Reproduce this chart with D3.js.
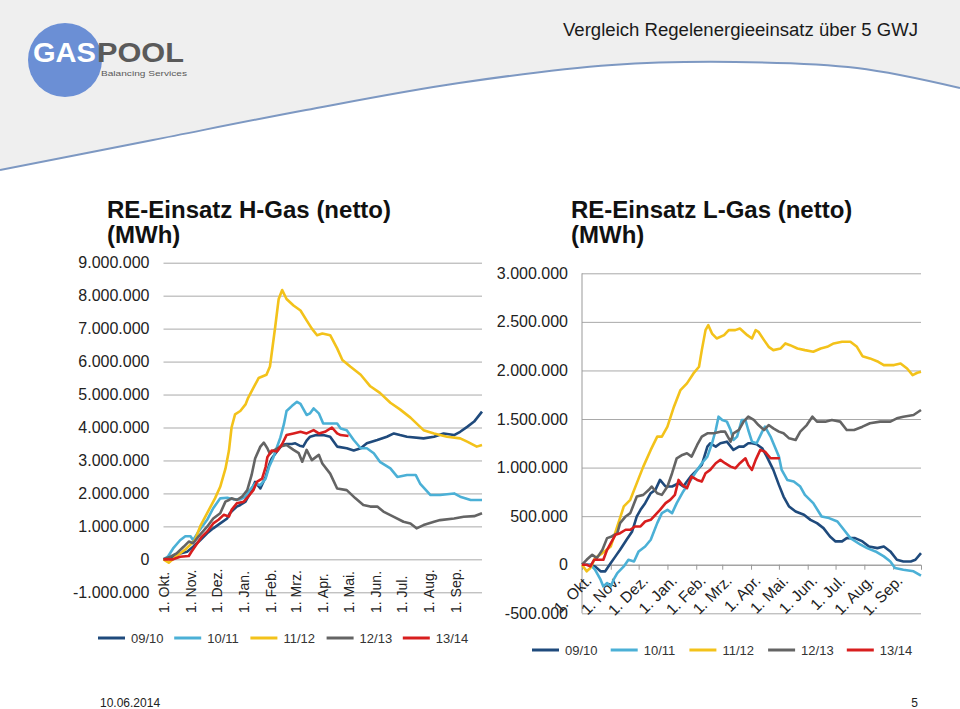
<!DOCTYPE html>
<html><head><meta charset="utf-8">
<script src="https://cdn.jsdelivr.net/npm/d3@7"></script>
<style>
body{margin:0;background:#fff;}
svg{display:block;font-family:"Liberation Sans",Arial,sans-serif;}
</style>
</head><body>
<svg id="c" width="960" height="709"></svg>
<script>
// ---------- data ----------
const months = ["1. Okt.","1. Nov.","1. Dez.","1. Jan.","1. Feb.","1. Mrz.","1. Apr.","1. Mai.","1. Jun.","1. Jul.","1. Aug.","1. Sep."];
const monthStartDays = [0,31,61,92,123,151,182,212,243,273,304,335];
const seasons = ["09/10","10/11","11/12","12/13","13/14"];
const hTicks = [-1000000,0,1000000,2000000,3000000,4000000,5000000,6000000,7000000,8000000,9000000];
const lTicks = [-500000,0,500000,1000000,1500000,2000000,2500000,3000000];

// H-Gas, [day since 1 Oct, MWh]
const h0910 = [[0,0],[11,80000],[19,180000],[27,230000],[34,380000],[42,580000],[50,790000],[57,940000],[65,1090000],[73,1240000],[76,1400000],[80,1500000],[84,1600000],[88,1650000],[94,1750000],[99,2000000],[105,2350000],[111,2150000],[117,2500000],[121,2860000],[124,3060000],[130,3270000],[136,3470000],[141,3500000],[147,3500000],[151,3520000],[156,3450000],[160,3420000],[164,3600000],[168,3720000],[175,3770000],[183,3770000],[191,3720000],[199,3420000],[210,3370000],[218,3300000],[226,3370000],[233,3520000],[245,3620000],[256,3720000],[264,3820000],[271,3770000],[279,3720000],[298,3670000],[310,3720000],[321,3820000],[333,3770000],[340,3870000],[348,4020000],[356,4180000],[365,4480000]];
const h1011 = [[0,0],[5,80000],[11,330000],[19,580000],[25,700000],[31,700000],[34,580000],[40,840000],[50,1200000],[57,1550000],[65,1850000],[73,1870000],[80,1820000],[88,1820000],[94,1900000],[99,2100000],[105,2300000],[111,2250000],[117,2450000],[121,2800000],[126,3100000],[130,3400000],[134,3700000],[138,4100000],[141,4500000],[147,4650000],[153,4780000],[157,4720000],[164,4380000],[168,4430000],[172,4580000],[178,4430000],[183,4120000],[191,4120000],[199,4120000],[203,3970000],[210,3920000],[218,3620000],[226,3370000],[233,3370000],[241,3220000],[248,2960000],[260,2760000],[268,2500000],[279,2560000],[289,2560000],[294,2300000],[306,1950000],[317,1950000],[333,2000000],[340,1900000],[352,1800000],[365,1800000]];
const h1112 = [[0,0],[6,-100000],[15,100000],[25,300000],[31,450000],[36,580000],[42,1000000],[52,1500000],[59,1850000],[65,2200000],[71,2750000],[75,3300000],[78,4000000],[82,4400000],[88,4500000],[94,4700000],[97,4900000],[103,5200000],[109,5500000],[118,5600000],[122,5850000],[128,7050000],[132,7900000],[136,8170000],[141,7900000],[149,7700000],[157,7550000],[164,7250000],[170,7000000],[176,6800000],[182,6850000],[191,6800000],[199,6400000],[205,6050000],[214,5850000],[226,5600000],[237,5250000],[248,5050000],[260,4750000],[271,4550000],[283,4300000],[298,3920000],[310,3820000],[325,3720000],[340,3670000],[348,3570000],[359,3420000],[365,3470000]];
const h1213 = [[0,0],[8,80000],[15,180000],[23,380000],[29,540000],[34,490000],[40,690000],[50,990000],[57,1240000],[65,1400000],[71,1750000],[75,1800000],[78,1850000],[84,1800000],[90,1900000],[96,2100000],[101,2560000],[105,3060000],[111,3420000],[115,3540000],[119,3370000],[122,3200000],[126,3300000],[134,3420000],[141,3470000],[149,3320000],[155,3220000],[159,2960000],[164,3320000],[170,3010000],[178,3170000],[182,2910000],[191,2600000],[199,2150000],[210,2100000],[220,1850000],[229,1650000],[237,1600000],[245,1600000],[252,1450000],[264,1290000],[275,1140000],[283,1090000],[290,940000],[298,1040000],[310,1140000],[317,1190000],[333,1240000],[344,1290000],[356,1310000],[365,1400000]];
const h1314 = [[0,0],[11,0],[19,80000],[29,100000],[32,230000],[36,380000],[44,690000],[50,840000],[57,1090000],[63,1200000],[69,1350000],[75,1300000],[78,1500000],[84,1700000],[92,1750000],[97,1900000],[103,2100000],[107,2350000],[113,2450000],[117,2800000],[119,3100000],[124,3300000],[130,3270000],[136,3500000],[141,3770000],[149,3820000],[157,3870000],[164,3820000],[172,3920000],[178,3820000],[185,3870000],[193,4000000],[199,3820000],[203,3770000],[212,3740000]];

// L-Gas, [day since 1 Oct, MWh]
const l0910 = [[0,0],[9,0],[14,-17000],[20,-68000],[25,-68000],[31,17000],[36,86000],[41,154000],[48,257000],[54,343000],[59,497000],[63,565000],[68,634000],[74,736000],[79,771000],[84,873000],[90,805000],[97,805000],[104,839000],[109,805000],[117,908000],[124,976000],[129,1027000],[135,1216000],[138,1250000],[144,1216000],[149,1250000],[156,1267000],[163,1182000],[169,1216000],[174,1216000],[179,1250000],[183,1250000],[188,1240000],[194,1199000],[199,1113000],[206,976000],[212,822000],[217,702000],[223,599000],[230,548000],[239,514000],[246,462000],[253,428000],[260,377000],[267,291000],[273,240000],[280,240000],[285,274000],[294,274000],[302,240000],[309,188000],[318,171000],[325,188000],[332,137000],[339,51000],[346,34000],[354,34000],[359,51000],[365,120000]];
const l1011 = [[0,0],[9,0],[14,-51000],[20,-154000],[23,-223000],[27,-188000],[31,-223000],[34,-154000],[38,-86000],[45,-17000],[50,51000],[56,34000],[61,137000],[68,188000],[74,257000],[81,428000],[86,531000],[92,565000],[97,531000],[102,634000],[109,754000],[117,873000],[124,976000],[129,1045000],[135,1113000],[140,1250000],[144,1387000],[147,1524000],[151,1490000],[156,1473000],[160,1387000],[163,1284000],[167,1319000],[172,1490000],[176,1490000],[179,1387000],[183,1267000],[188,1250000],[194,1370000],[197,1421000],[203,1319000],[206,1250000],[212,1113000],[215,976000],[221,873000],[228,856000],[235,805000],[240,719000],[249,634000],[258,497000],[266,480000],[275,445000],[282,360000],[289,274000],[300,206000],[307,171000],[316,137000],[325,86000],[332,34000],[337,-34000],[346,-51000],[357,-68000],[365,-113000]];
const l1112 = [[0,0],[5,-68000],[9,-34000],[14,68000],[22,120000],[31,188000],[38,394000],[45,600000],[52,668000],[59,840000],[66,1010000],[74,1182000],[81,1319000],[86,1319000],[92,1421000],[99,1627000],[106,1798000],[113,1867000],[120,1969000],[126,2038000],[129,2209000],[133,2415000],[136,2466000],[140,2380000],[145,2329000],[153,2363000],[158,2415000],[165,2415000],[170,2432000],[178,2363000],[183,2329000],[187,2415000],[190,2398000],[196,2312000],[201,2243000],[206,2209000],[214,2226000],[219,2278000],[224,2260000],[232,2226000],[240,2209000],[249,2192000],[257,2226000],[264,2243000],[271,2278000],[280,2295000],[289,2295000],[296,2243000],[302,2147000],[310,2124000],[319,2089000],[325,2055000],[336,2055000],[343,2072000],[350,2020000],[356,1952000],[361,1976000],[365,1987000]];
const l1213 = [[0,0],[5,51000],[11,103000],[16,68000],[22,154000],[27,274000],[32,291000],[38,325000],[41,428000],[47,497000],[52,531000],[59,702000],[66,719000],[72,771000],[75,805000],[81,736000],[86,719000],[92,805000],[97,942000],[102,1096000],[108,1130000],[113,1147000],[118,1113000],[124,1233000],[129,1319000],[135,1353000],[142,1353000],[149,1370000],[154,1370000],[160,1267000],[163,1353000],[169,1387000],[174,1473000],[179,1524000],[185,1490000],[190,1438000],[196,1387000],[201,1438000],[206,1404000],[212,1370000],[217,1353000],[223,1301000],[230,1284000],[235,1370000],[242,1438000],[248,1524000],[253,1473000],[262,1473000],[269,1490000],[278,1473000],[285,1387000],[293,1387000],[302,1421000],[310,1456000],[321,1473000],[332,1473000],[339,1507000],[346,1524000],[357,1541000],[365,1593000]];
const l1314 = [[0,0],[5,0],[9,-17000],[13,51000],[18,51000],[23,51000],[27,154000],[31,223000],[36,308000],[41,325000],[47,360000],[52,360000],[57,394000],[63,394000],[68,445000],[74,462000],[79,514000],[84,565000],[90,634000],[95,668000],[100,719000],[104,873000],[108,822000],[113,788000],[118,908000],[124,873000],[129,856000],[133,942000],[138,976000],[144,1045000],[149,1079000],[154,1045000],[160,1010000],[165,993000],[170,1045000],[176,1096000],[179,1027000],[183,976000],[187,1079000],[192,1182000],[197,1164000],[203,1096000],[208,1096000],[213,1096000]];

const hSeries = [h0910,h1011,h1112,h1213,h1314];
const lSeries = [l0910,l1011,l1112,l1213,l1314];

// ---------- style ----------
const colors = ["#1f4a7c","#4bb0d6","#f3c21a","#646464","#d81e1e"];
const de = d3.formatLocale({decimal:",",thousands:".",grouping:[3],currency:["","€"],minus:"-"});
const fmt = de.format(",.0f");

const svg = d3.select("#c");

// ---------- header ----------
const curvePts = [[0,170],[153,140],[306,110],[459,83],[612,65],[735,62],[857,68],[960,88]];
const curve = d3.line().curve(d3.curveCatmullRom);
svg.append("path").attr("d", curve(curvePts) + "L960,0L0,0Z").attr("fill","#efefef");
svg.append("path").attr("d", curve(curvePts)).attr("fill","none").attr("stroke","#7d98c2").attr("stroke-width",2);

svg.append("circle").attr("cx",65).attr("cy",60).attr("r",37).attr("fill","#6b8fd5");
svg.append("text").attr("x",33).attr("y",62).attr("font-size",27).attr("font-weight","bold")
  .attr("fill","#fff").attr("textLength",63).attr("lengthAdjust","spacingAndGlyphs").text("GAS");
svg.append("text").attr("x",97).attr("y",62).attr("font-size",27).attr("font-weight","900")
  .attr("fill","#5a5a5a").attr("textLength",87).attr("lengthAdjust","spacingAndGlyphs").text("POOL");
svg.append("text").attr("x",101).attr("y",76).attr("font-size",8)
  .attr("fill","#5a5a5a").attr("textLength",86).attr("lengthAdjust","spacingAndGlyphs").text("Balancing Services");

svg.append("text").attr("x",563).attr("y",36).attr("font-size",18).attr("fill","#1a1a1a")
  .attr("textLength",355).attr("lengthAdjust","spacingAndGlyphs").text("Vergleich Regelenergieeinsatz über 5 GWJ");

// ---------- titles ----------
function title(x, l1, l2){
  const t = svg.append("text").attr("font-size",24).attr("font-weight","bold").attr("fill","#111");
  t.append("tspan").attr("x",x).attr("y",218).text(l1);
  t.append("tspan").attr("x",x).attr("y",243).text(l2);
}
title(107,"RE-Einsatz H-Gas (netto)","(MWh)");
title(571,"RE-Einsatz L-Gas (netto)","(MWh)");

// ---------- left chart (H-Gas) ----------
{
  const x = d3.scaleLinear().domain([0,365]).range([163.5,482]);
  const y = d3.scaleLinear().domain([-1000000,9000000]).range([592.3,262.7]);
  const g = svg.append("g");
  const ya = g.append("g").attr("transform","translate(163.5,0)")
    .call(d3.axisLeft(y).tickValues(hTicks).tickFormat(fmt).tickSize(-(482-163.5)).tickPadding(14));
  ya.select(".domain").remove();
  ya.selectAll("line").attr("stroke","#a9a9a9");
  ya.selectAll("text").attr("font-size",16).attr("fill","#222").attr("font-family","Liberation Sans, Arial");

  const xa = g.append("g").attr("transform","translate(0,613)")
    .call(d3.axisBottom(x).tickValues(monthStartDays).tickFormat((d,i)=>months[i]).tickSize(0));
  xa.select(".domain").remove();
  xa.selectAll("text").attr("font-size",14).attr("fill","#222").attr("font-family","Liberation Sans, Arial")
    .attr("text-anchor","start").attr("y",0).attr("dy","0.35em")
    .attr("transform","rotate(-90)").attr("x",0);

  const line = d3.line().x(d=>x(d[0])).y(d=>y(d[1]));
  g.selectAll("path.s").data(hSeries).join("path").attr("class","s")
    .attr("d",line).attr("fill","none").attr("stroke",(d,i)=>colors[i])
    .attr("stroke-width",2.6).attr("stroke-linejoin","round");

  const lg = g.append("g").selectAll("g").data(seasons).join("g")
    .attr("transform",(d,i)=>`translate(${98 + i*76.2},638)`);
  lg.append("line").attr("x1",0).attr("x2",27).attr("stroke",(d,i)=>colors[i]).attr("stroke-width",3);
  lg.append("text").attr("x",33).attr("dy","0.35em").attr("font-size",13).attr("fill","#333").text(d=>d);
}

// ---------- right chart (L-Gas) ----------
{
  const x = d3.scaleLinear().domain([0,365]).range([582,921]);
  const y = d3.scaleLinear().domain([-500000,3000000]).range([613.3,273.3]);
  const g = svg.append("g");
  const ya = g.append("g").attr("transform","translate(582,0)")
    .call(d3.axisLeft(y).tickValues(lTicks).tickFormat(fmt).tickSize(-(921-582)).tickPadding(14));
  ya.select(".domain").remove();
  ya.selectAll("line").attr("stroke","#a9a9a9");
  ya.selectAll("text").attr("font-size",16).attr("fill","#222").attr("font-family","Liberation Sans, Arial");

  g.append("line").attr("x1",582).attr("x2",582).attr("y1",273.3).attr("y2",613.3).attr("stroke","#999");

  const xa = g.append("g").attr("transform",`translate(0,${y(0)})`)
    .call(d3.axisBottom(x).tickValues(monthStartDays).tickFormat((d,i)=>months[i]).tickSize(5));
  xa.select(".domain").attr("stroke","#999");
  xa.selectAll("line").attr("stroke","#999");
  xa.selectAll("text").attr("font-size",15.5).attr("fill","#222").attr("font-family","Liberation Sans, Arial")
    .attr("text-anchor","end").attr("y",0).attr("dy",0)
    .attr("transform","translate(10,17) rotate(-45)").attr("x",0);

  const line = d3.line().x(d=>x(d[0])).y(d=>y(d[1]));
  g.selectAll("path.s").data(lSeries).join("path").attr("class","s")
    .attr("d",line).attr("fill","none").attr("stroke",(d,i)=>colors[i])
    .attr("stroke-width",2.6).attr("stroke-linejoin","round");

  const lg = g.append("g").selectAll("g").data(seasons).join("g")
    .attr("transform",(d,i)=>`translate(${532 + i*78.7},650)`);
  lg.append("line").attr("x1",0).attr("x2",27).attr("stroke",(d,i)=>colors[i]).attr("stroke-width",3);
  lg.append("text").attr("x",33).attr("dy","0.35em").attr("font-size",13).attr("fill","#333").text(d=>d);
}

// ---------- footer ----------
svg.append("text").attr("x",100).attr("y",707).attr("font-size",12).attr("fill","#222")
  .attr("font-family","Liberation Sans Narrow, Liberation Sans, Arial").text("10.06.2014");
svg.append("text").attr("x",918).attr("y",707).attr("font-size",12).attr("fill","#222")
  .attr("text-anchor","end").attr("font-family","Liberation Sans Narrow, Liberation Sans, Arial").text("5");
</script>
</body></html>
